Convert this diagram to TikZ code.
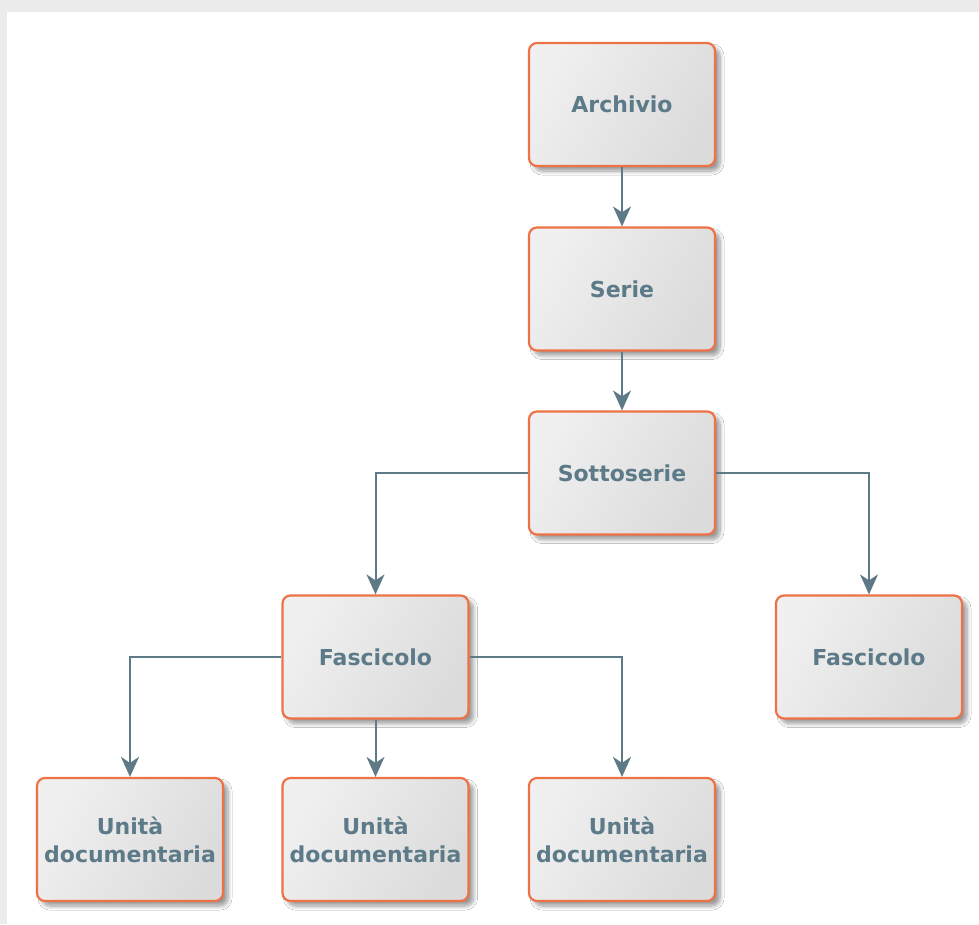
\documentclass[tikz,border=0pt]{standalone}
\usepackage{fontspec}
\setmainfont{DejaVu Sans}
\usetikzlibrary{arrows.meta,shadows.blur}
\definecolor{boxedge}{RGB}{238,114,70}
\definecolor{labeltext}{RGB}{92,122,136}
\definecolor{linkcol}{RGB}{94,122,135}
\definecolor{pagegray}{RGB}{236,236,236}
\tikzset{
  unitbox/.style={
    draw=boxedge, line width=2.2pt, rounded corners=8pt,
    left color=black!6, right color=black!14, shading angle=60,
    minimum width=186pt, minimum height=123pt, inner sep=0pt,
    align=center, text=labeltext,
    font=\fontsize{22}{28}\selectfont\bfseries,
    blur shadow={shadow xshift=5pt, shadow yshift=-5pt, shadow blur steps=8, shadow blur radius=4pt, shadow opacity=40}
  },
  link/.style={
    draw=linkcol, line width=2pt,
    -{Stealth[length=20pt, width=18pt, inset=6pt]}
  }
}
\begin{document}
\begin{tikzpicture}[x=1pt,y=-1pt]
  % page frame
  \fill[pagegray] (0,0) rectangle (979,924);
  \fill[white] (7,12) rectangle (979,924);
  \useasboundingbox (0,0) rectangle (979,924);

  % hierarchy levels
  \node[unitbox] (arch)  at (622,104.5) {Archivio};
  \node[unitbox] (serie) at (622,289)   {Serie};
  \node[unitbox] (sotto) at (622,473)   {Sottoserie};
  \node[unitbox] (fascA) at (375.5,657) {Fascicolo};
  \node[unitbox] (fascB) at (869,657)   {Fascicolo};
  \node[unitbox] (udA)   at (130,839.5) {Unità\\documentaria};
  \node[unitbox] (udB)   at (375.5,839.5) {Unità\\documentaria};
  \node[unitbox] (udC)   at (622,839.5) {Unità\\documentaria};

  % connectors
  \draw[link] (arch) -- (serie);
  \draw[link] (serie) -- (sotto);
  \draw[link] (sotto.west) -| (fascA.north);
  \draw[link] (sotto.east) -| (fascB.north);
  \draw[link] (fascA.west) -| (udA.north);
  \draw[link] (fascA) -- (udB);
  \draw[link] (fascA.east) -| (udC.north);
\end{tikzpicture}
\end{document}
